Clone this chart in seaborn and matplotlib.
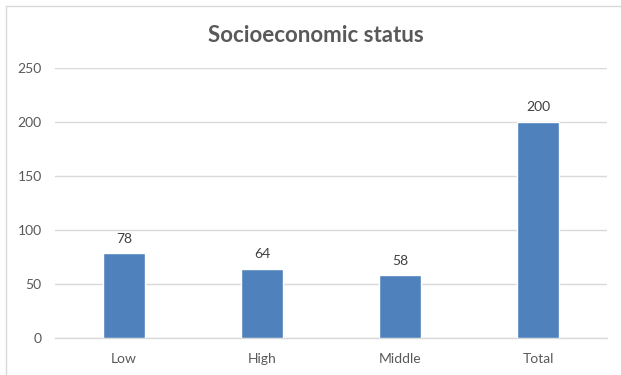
import matplotlib
matplotlib.use("Agg")
import matplotlib.pyplot as plt
import seaborn as sns
import pandas as pd
from matplotlib.lines import Line2D

categories = ["Low", "High", "Middle", "Total"]
values = [78, 64, 58, 200]
yticks = [0, 50, 100, 150, 200, 250]
title = "Socioeconomic status"

sns.set_theme(style="white")
plt.rcParams['font.family'] = ['Lato', 'DejaVu Sans']

df = pd.DataFrame({"category": categories, "value": values})

fig = plt.figure(figsize=(6.21, 3.75), dpi=100)
ax = fig.add_axes([0.0886, 0.0995, 0.889, 0.72])

sns.barplot(data=df, x="category", y="value", color="#4F81BD", saturation=1,
            width=0.31, ax=ax, zorder=3)

ax.set_ylim(0, 250)
ax.set_xlim(-0.5, 3.5)
ax.set_yticks(yticks)
ax.set_yticklabels([str(t) for t in yticks])
ax.grid(axis="y", color="#D9D9D9", linewidth=1, zorder=0)
ax.set_axisbelow(True)
for s in ["left", "right", "top"]:
    ax.spines[s].set_visible(False)
ax.spines["bottom"].set_color("#D9D9D9")
ax.spines["bottom"].set_linewidth(1)
ax.set_xlabel("")
ax.set_ylabel("")
ax.tick_params(axis="y", length=0, pad=9.5, labelsize=10, labelcolor="#595959")
ax.tick_params(axis="x", length=0, pad=11, labelsize=10, labelcolor="#595959")

for c in ax.containers:
    ax.bar_label(c, labels=[str(v) for v in values], padding=6, fontsize=10, color="#404040")

fig.text(0.508, 0.905, title, ha="center", va="center", fontsize=16,
         fontweight="bold", color="#595959")

# chart border (top and left visible)
fig.add_artist(Line2D([6/621, 1], [1 - 6/375, 1 - 6/375], transform=fig.transFigure,
                      color="#D9D9D9", linewidth=1))
fig.add_artist(Line2D([6/621, 6/621], [0, 1 - 6/375], transform=fig.transFigure,
                      color="#D9D9D9", linewidth=1))

fig.savefig("out.png", dpi=100)
